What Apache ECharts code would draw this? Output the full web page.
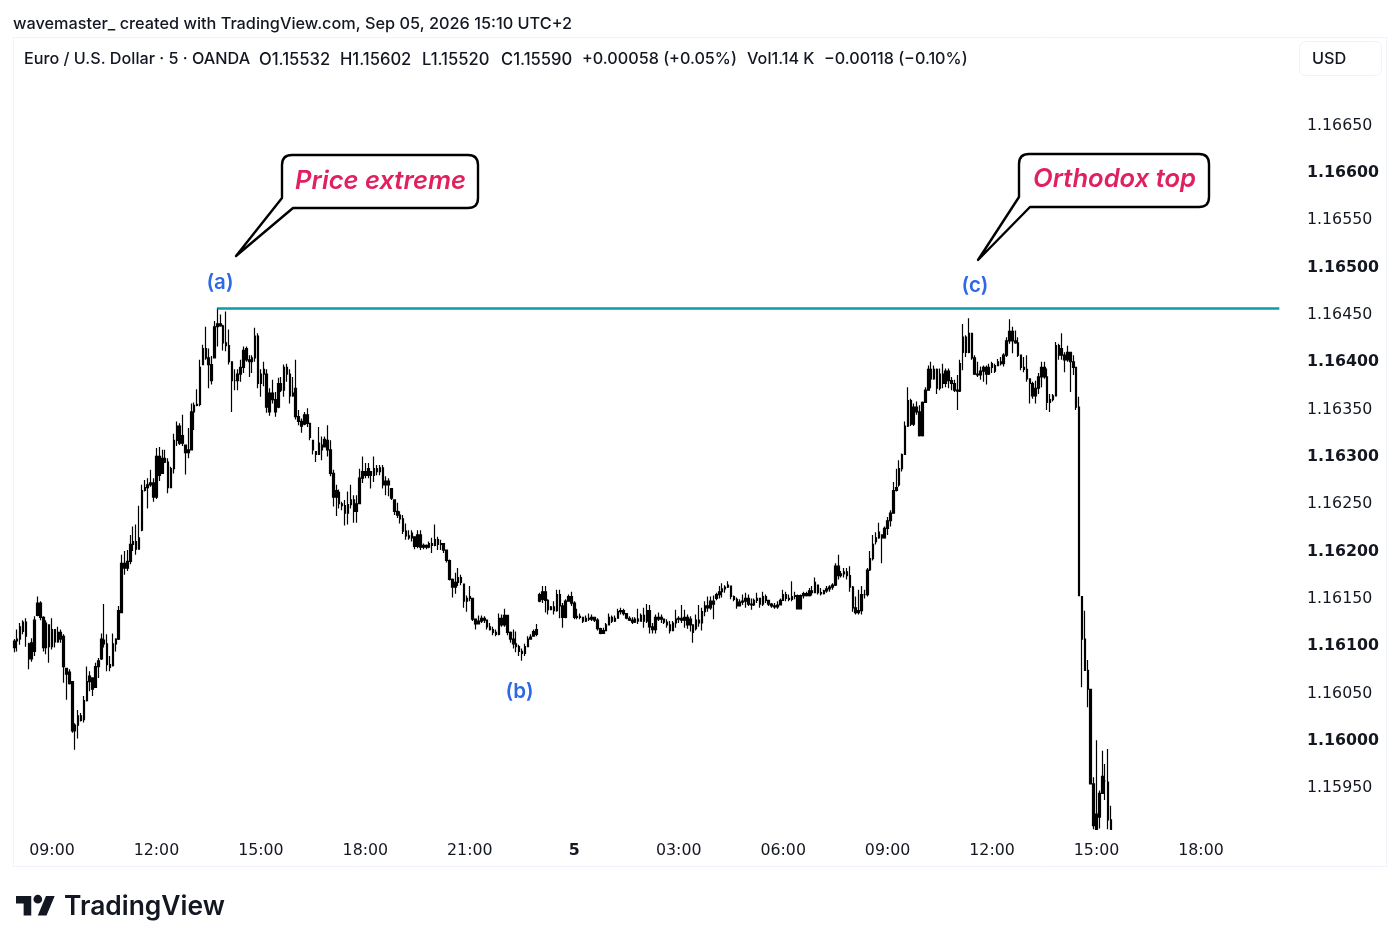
<!DOCTYPE html>
<html><head><meta charset="utf-8">
<style>html,body{margin:0;padding:0;background:#fff}#c{width:1400px;height:946px}</style>
<script src="https://cdn.jsdelivr.net/npm/echarts@6/dist/echarts.min.js"></script>
</head><body><div id="c"></div>
<script>
// Prices are stored in points (0.00001 USD) above this base price
const basePrice = 1.16;
const opens = [
96,103,105,113,123,100,84,92,130,143,
128,96,120,97,115,102,112,108,74,70,
60,8,14,24,20,40,60,64,54,76,
84,104,100,78,77,100,105,133,185,180,
187,205,208,200,220,262,265,268,270,255,
298,280,296,292,265,285,315,330,312,310,
302,305,345,352,353,395,412,402,395,402,
435,438,436,418,415,398,378,378,385,392,
412,400,398,402,425,375,385,385,345,365,
358,350,375,368,392,385,362,370,340,335,
332,342,333,315,303,300,310,308,315,305,
280,255,260,248,246,238,247,252,240,248,
275,282,278,282,278,285,282,286,268,272,
264,252,240,236,232,219,214,212,213,203,
215,202,204,202,206,204,210,205,206,199,
188,168,160,165,170,163,145,148,148,126,
121,124,127,125,118,115,112,110,127,120,
130,112,105,100,97,92,90,97,105,108,
110,145,147,155,146,136,139,135,152,140,
128,145,150,143,128,129,128,124,127,126,
128,125,116,111,114,120,128,124,127,134,
135,132,127,125,123,126,124,130,124,135,
118,115,128,126,126,123,120,114,122,126,
127,125,128,120,120,116,125,122,134,140,
138,145,148,152,155,158,160,161,150,147,
140,144,145,148,142,141,146,148,142,150,
146,142,140,139,141,146,152,148,147,150,
151,137,151,153,151,156,154,162,154,153,
156,158,160,162,182,172,174,176,172,160,
138,133,135,152,152,178,190,208,212,215,
212,222,230,238,262,268,285,300,330,357,
332,350,345,320,355,368,390,380,390,370,
385,375,388,378,375,368,367,408,424,408,
428,402,385,384,388,392,385,392,388,394,
398,396,405,420,430,420,418,405,392,390,
380,375,362,370,382,392,382,355,358,362,
415,405,405,400,408,398,392,350,150,105,
72,52,-48,-80,-83,-58,-45,-46,-86];
const closes = [
103,105,118,123,108,84,101,125,143,128,
96,122,97,115,102,112,105,76,68,58,
8,14,24,19,40,60,66,52,76,82,
105,100,78,75,100,105,135,185,180,187,
205,208,200,212,262,265,268,270,255,298,
278,296,292,265,285,315,330,312,320,302,
305,345,352,353,392,412,402,395,378,435,
438,436,418,415,398,378,378,385,392,410,
400,398,402,425,375,385,390,350,365,358,
345,375,368,392,385,362,365,340,335,330,
342,333,318,305,300,312,305,316,305,280,
255,262,248,246,238,247,252,240,248,275,
282,278,285,278,285,282,286,268,272,268,
254,240,236,232,219,214,212,217,203,215,
202,204,202,206,204,210,205,206,199,188,
168,160,165,170,165,145,148,150,126,121,
124,127,125,118,115,112,110,127,120,130,
112,105,100,97,92,90,97,105,107,113,
115,152,155,146,136,139,135,152,140,128,
145,150,143,128,129,128,124,127,126,128,
125,116,111,114,120,128,124,127,134,135,
132,127,125,123,126,124,130,124,135,118,
115,128,126,128,123,120,114,122,126,127,
125,128,120,126,112,125,122,134,140,138,
145,142,152,155,158,160,162,150,147,140,
144,145,148,142,141,146,148,142,150,146,
142,140,139,141,146,152,148,147,150,151,
137,151,153,151,156,154,165,154,153,156,
158,160,162,182,172,174,176,172,160,138,
133,135,152,152,178,190,205,212,218,212,
222,230,238,262,265,285,300,330,357,332,
350,345,320,355,368,390,380,390,370,385,
375,388,378,375,368,367,396,424,408,428,
402,385,384,388,392,385,392,396,394,398,
396,405,420,430,420,418,405,392,390,380,
375,362,370,382,392,382,355,358,362,415,
405,412,400,408,398,392,350,151,105,72,
52,-48,-92,-96,-58,-40,-45,-86,-96];
const highs = [
105,115,122,125,127,101,106,129,150,145,
129,125,120,127,115,118,115,110,74,73,
60,16,30,27,45,76,71,62,80,85,
111,142,110,87,111,106,140,194,198,199,
215,224,226,246,268,273,275,284,275,307,
308,305,305,296,287,322,335,333,342,310,
328,354,355,369,400,416,435,412,404,441,
455,448,437,451,432,398,390,390,400,414,
414,405,405,434,428,390,398,390,370,379,
366,381,382,395,396,390,382,400,347,338,
345,349,333,315,303,329,319,319,331,315,
284,268,263,250,252,261,268,257,257,285,
298,291,291,282,298,289,289,289,277,275,
264,252,249,240,236,227,220,220,213,220,
220,206,205,208,212,226,213,210,206,199,
189,169,175,180,173,163,151,161,148,126,
130,130,129,125,122,118,115,132,131,137,
130,113,115,113,99,95,100,108,110,115,
121,154,161,161,147,140,145,157,157,143,
147,152,155,145,137,132,128,130,132,131,
128,127,117,117,122,132,130,130,137,138,
137,132,129,128,128,137,132,138,142,141,
122,131,133,131,126,126,124,124,136,129,
141,136,131,129,120,131,141,138,145,150,
150,151,154,161,164,162,166,161,151,149,
147,152,154,152,148,148,154,148,155,152,
146,143,143,145,148,157,155,152,166,155,
152,152,155,155,159,161,170,162,159,157,
161,162,164,185,194,177,180,180,182,161,
150,157,161,157,180,198,215,218,228,215,
224,234,241,271,285,294,301,335,371,359,
354,356,352,356,371,394,398,394,391,391,
396,391,391,382,379,384,400,438,426,444,
428,405,398,393,394,394,396,398,396,401,
403,407,424,443,435,431,424,405,403,405,
380,377,378,386,398,398,391,364,364,419,
417,428,408,415,408,405,392,361,150,135,
83,52,-41,-2,-55,-13,-27,-11,-71];
const lows = [
91,92,99,110,97,73,81,87,129,125,
92,89,80,94,96,101,101,59,41,57,
6,-12,0,18,17,39,50,45,54,64,
83,96,71,71,76,92,104,133,173,177,
184,198,194,206,219,261,243,266,250,253,
272,280,291,259,265,280,309,310,309,279,
296,305,326,351,351,395,400,370,374,402,
414,435,410,409,395,345,368,368,377,386,
398,382,386,398,370,361,372,344,341,354,
340,349,366,361,377,354,361,337,331,323,
331,329,315,300,292,300,294,308,298,277,
245,235,243,241,225,226,243,228,228,248,
270,275,275,264,271,278,278,264,257,256,
252,236,233,227,216,210,210,208,200,201,
199,200,200,201,196,203,199,199,196,186,
167,149,153,161,162,138,134,145,124,115,
121,122,122,115,114,109,108,109,118,118,
109,101,95,91,87,82,87,97,106,108,
108,144,143,133,131,136,131,134,127,117,
127,145,140,126,126,126,122,123,124,124,
123,114,110,111,114,120,122,123,127,131,
130,126,124,121,122,121,124,117,122,111,
111,111,124,122,121,117,111,114,117,122,
122,117,116,113,101,114,118,114,129,134,
136,126,146,148,149,154,159,147,145,137,
140,141,138,140,136,140,143,138,140,143,
140,138,137,137,141,146,145,145,145,147,
137,137,148,150,150,151,154,152,151,152,
154,155,157,161,168,170,170,168,155,134,
131,131,131,148,150,177,188,205,211,185,
211,215,224,238,261,266,282,300,329,330,
330,342,319,319,355,368,370,379,364,368,
370,371,370,368,366,347,366,389,403,407,
400,384,382,379,377,374,384,386,386,394,
394,393,403,417,407,417,403,389,387,377,
354,359,354,364,371,380,347,345,356,362,
400,400,387,398,366,384,347,151,54,72,
33,-48,-96,-96,-95,-58,-65,-96,-96];

const priceTicks = [1.1595,1.16,1.1605,1.161,1.1615,1.162,1.1625,1.163,1.1635,1.164,1.1645,1.165,1.1655,1.166,1.1665];
const resistanceLevel = 1.16454;
const legendParts = [["Euro / U.S. Dollar · 5 · OANDA",24,16.2],["O1.15532",259,16.6],["H1.15602",340,16.6],["L1.15520",422,16.6],["C1.15590",501,16.6],["+0.00058 (+0.05%)",582,16.2],["Vol1.14 K",747,16.2],["−0.00118 (−0.10%)",824,16.2]];

const firstMinute = 7*60+55, slots = 440;
const categories = [];
for (let i=0;i<slots;i++){
  const m = firstMinute+5*i, d = m%1440, h = Math.floor(d/60), mm = d%60;
  categories.push(d===0 ? "5" : String(h).padStart(2,"0")+":"+String(mm).padStart(2,"0"));
}
const candles = opens.map((o,i)=>[o,closes[i],lows[i],highs[i]].map(v=>+(basePrice+v/1e5).toFixed(5)));
const F = "Inter, 'Noto Sans', sans-serif";
const AX = "'DejaVu Sans', sans-serif";

echarts.graphic.registerShape("calloutA", echarts.graphic.extendPath("M292 155H468Q478 155 478 165V198Q478 208 468 208H293L236 256L282 198V165Q282 155 292 155Z", {}));
echarts.graphic.registerShape("calloutC", echarts.graphic.extendPath("M1029 154H1199Q1209 154 1209 164V197Q1209 207 1199 207H1030L978 260L1019 197V164Q1019 154 1029 154Z", {}));
echarts.graphic.registerShape("tvIcon", echarts.graphic.extendPath("M14 22H7V11H0V4h14v18zM28 22h-8l7.5-18h8L28 22zM24 7a4 4 0 1 1-8 0 4 4 0 0 1 8 0z", {}));

const txt = (t,x,y,o)=>({type:"text",x,y,silent:true,style:Object.assign({text:t,fill:"#131722",font:"500 16.3px "+F,textAlign:"left",textVerticalAlign:"middle"},o||{})});
const chart = echarts.init(document.getElementById("c"),null,{renderer:"canvas"});
chart.setOption({
  animation:false, backgroundColor:"#fff",
  grid:{left:12.83,top:37,width:1276.66,height:793,containLabel:false},
  xAxis:{type:"category",data:categories,boundaryGap:true,
    axisLine:{show:false},axisTick:{show:false},splitLine:{show:false},
    axisLabel:{margin:13,color:"#131722",fontFamily:AX,fontSize:15.8,
      interval:(i,v)=> v==="5" || (v.endsWith(":00") && +v.slice(0,2)%3===0),
      formatter:v=> v==="5" ? "{b|5}" : v,
      rich:{b:{fontWeight:"bold",fontSize:15.8,fontFamily:AX,color:"#131722"}}}},
  yAxis:{type:"value",position:"right",min:1.159033,max:1.167411,
    axisLine:{show:false},axisTick:{show:false},splitLine:{show:false},
    axisLabel:{customValues:priceTicks,margin:17.5,align:"left",color:"#131722",fontFamily:AX,fontSize:15.8,padding:[5,0,0,0],
      formatter:v=>{const s=v.toFixed(5);return Math.abs(v*1000-Math.round(v*1000))<1e-6?"{b|"+s+"}":s;},
      rich:{b:{fontWeight:"bold",fontSize:15.8,fontFamily:AX,color:"#131722"}}}},
  series:[{type:"candlestick",data:candles,barWidth:2,large:false,clip:true,
    itemStyle:{color:"#000",color0:"#000",borderColor:"#000",borderColor0:"#000",borderWidth:1.2},
    markLine:{silent:true,symbol:"none",label:{show:false},animation:false,
      lineStyle:{color:"#0f9aa8",width:2.5,type:"solid"},
      data:[[{coord:[70,resistanceLevel]},{coord:[436,resistanceLevel]}]]}}],
  graphic:{elements:[
    {type:"rect",z:-1,silent:true,shape:{x:13.5,y:37.5,width:1373,height:829},style:{fill:"none",stroke:"#f0f3fa",lineWidth:1}},
    {type:"rect",silent:true,shape:{x:1299.5,y:41.5,width:82,height:34,r:6},style:{fill:"#fff",stroke:"#f0f3fa",lineWidth:1}},
    txt("USD",1312,59),
    txt("wavemaster_ created with TradingView.com, Sep 05, 2026 15:10 UTC+2",13,24),
    ...legendParts.map(p=>txt(p[0],p[1],59.5,{font:"500 "+p[2]+"px "+F})),
    {type:"calloutA",x:0,y:0,silent:true,style:{fill:"#fff",stroke:"#000",lineWidth:2.4,lineJoin:"round"}},
    {type:"calloutC",x:0,y:0,silent:true,style:{fill:"#fff",stroke:"#000",lineWidth:2.4,lineJoin:"round"}},
    txt("Price extreme",380.5,181,{textAlign:"center",fill:"#e0215f",font:"italic 600 25.6px "+F}),
    txt("Orthodox top",1114.5,179.5,{textAlign:"center",fill:"#e0215f",font:"italic 600 25.6px "+F}),
    txt("(a)",220,282.5,{textAlign:"center",fill:"#2f68e6",font:"600 20.5px "+F}),
    txt("(b)",519.5,691.5,{textAlign:"center",fill:"#2f68e6",font:"600 20.5px "+F}),
    txt("(c)",975,285.5,{textAlign:"center",fill:"#2f68e6",font:"600 20.5px "+F}),
    {type:"tvIcon",x:16,y:891.6,scaleX:1.09,scaleY:1.09,silent:true,style:{fill:"#131722"}},
    txt("TradingView",64,907,{font:"600 26.4px "+F,fill:"#131722"})
  ]}
});
</script></body></html>
